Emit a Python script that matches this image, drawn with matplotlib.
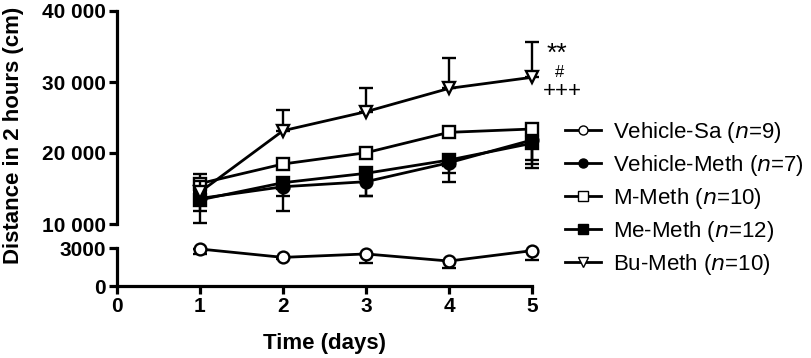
import numpy as np
import matplotlib
matplotlib.use("Agg")
from matplotlib import pyplot as plt
from matplotlib.lines import Line2D

plt.rcParams['font.family'] = ['Liberation Sans', 'DejaVu Sans']

days = [1, 2, 3, 4, 5]

# mean values
veh_sa = [2920, 2260, 2530, 1970, 2790]
veh_sa_lo = [400, 150, 740, 580, 740]

veh_meth = [13600, 15250, 15960, 18630, 21830]
veh_meth_lo = [3400, 1250, 1970, 1490, 3420]

m_meth = [15700, 18450, 20040, 22910, 23380]
m_meth_up = [1400, 300, 300, 300, 300]
m_meth_lo = [300, 300, 300, 300, 4370]

me_meth = [13400, 15820, 17140, 19010, 21370]
me_meth_lo = [1500, 3950, 3150, 3050, 3520]

bu_meth = [14500, 23140, 25820, 29100, 30660]
bu_meth_up = [1500, 2920, 3290, 4320, 5020]

labels = ['Vehicle-Sa ($\\it{n}$=9)', 'Vehicle-Meth ($\\it{n}$=7)',
          'M-Meth ($\\it{n}$=10)', 'Me-Meth ($\\it{n}$=12)', 'Bu-Meth ($\\it{n}$=10)']

W, H = 812, 358
fig = plt.figure(figsize=(W / 100, H / 100), dpi=100)
left, right = 117 / W, 532 / W
ax_top = fig.add_axes([left, 1 - 224 / H, right - left, (224 - 11) / H])
ax_bot = fig.add_axes([left, 1 - 286 / H, right - left, (286 - 248) / H])

lw = 2.0
ms = 8.5
common = dict(color='black', linewidth=lw, markersize=ms, markeredgewidth=1.7,
              capsize=5, elinewidth=1.7, capthick=1.7, clip_on=False)

# top panel
ax_top.errorbar(days, veh_meth, yerr=[veh_meth_lo, [0] * 5], marker='o',
                markerfacecolor='black', zorder=3, **common)
ax_top.errorbar(days, me_meth, yerr=[me_meth_lo, [0] * 5], marker='s',
                markerfacecolor='black', zorder=3, **common)
ax_top.errorbar(days, m_meth, yerr=[m_meth_lo, m_meth_up], marker='s',
                markerfacecolor='white', zorder=4, **common)
ax_top.errorbar(days, bu_meth, yerr=[[0] * 5, bu_meth_up], marker='v',
                markerfacecolor='white', zorder=5, **common)

# bottom panel
ax_bot.errorbar(days, veh_sa, yerr=[veh_sa_lo, [0] * 5], marker='o',
                markerfacecolor='white', zorder=3, **common)

ax_top.set_xlim(0, 5)
ax_bot.set_xlim(0, 5)
ax_top.set_ylim(10000, 40000)
ax_bot.set_ylim(0, 3000)

ax_top.set_yticks([10000, 20000, 30000, 40000])
ax_top.set_yticklabels(['10 000', '20 000', '30 000', '40 000'])
ax_bot.set_yticks([0, 3000])
ax_bot.set_yticklabels(['0', '3000'])
ax_bot.set_xticks([0, 1, 2, 3, 4, 5])
ax_top.set_xticks([])

for ax in (ax_top, ax_bot):
    ax.set_facecolor('none')
    ax.spines['right'].set_visible(False)
    ax.spines['top'].set_visible(False)
    ax.spines['left'].set_linewidth(2.3)
    ax.spines['bottom'].set_linewidth(2.3)
    ax.tick_params(width=2.3, length=6, labelsize=15, pad=2)
    for t in ax.get_xticklabels() + ax.get_yticklabels():
        t.set_fontweight('bold')
ax_top.spines['bottom'].set_visible(False)

ax_bot.set_xlabel('Time (days)', fontsize=16, fontweight='bold', labelpad=12)
fig.text(0.017, 1 - 135 / H, 'Distance in 2 hours (cm)', rotation=90,
         ha='center', va='center', fontsize=16, fontweight='bold')

# significance marks
ax_top.text(5.30, 34000, '**', fontsize=19, ha='center', va='center', clip_on=False)
ax_top.text(5.33, 31400, '#', fontsize=12, ha='center', va='center', clip_on=False)
ax_top.text(5.37, 28600, '+++', fontsize=16, ha='center', va='center', clip_on=False)

# legend
handles = [
    Line2D([], [], color='black', lw=lw, marker='o', markerfacecolor='white', markersize=6.5),
    Line2D([], [], color='black', lw=lw, marker='o', markerfacecolor='black', markersize=6.5),
    Line2D([], [], color='black', lw=lw, marker='s', markerfacecolor='white', markersize=6.5),
    Line2D([], [], color='black', lw=lw, marker='s', markerfacecolor='black', markersize=6.5),
    Line2D([], [], color='black', lw=lw, marker='v', markerfacecolor='white', markersize=6.5),
]
fig.legend(handles, labels, loc='upper left', bbox_to_anchor=(565 / W, 1 - 120 / H),
           frameon=False, fontsize=16, handlelength=1.6, handletextpad=0.55,
           labelspacing=0.36, borderpad=0, borderaxespad=0)

fig.savefig('out.png', dpi=100)
